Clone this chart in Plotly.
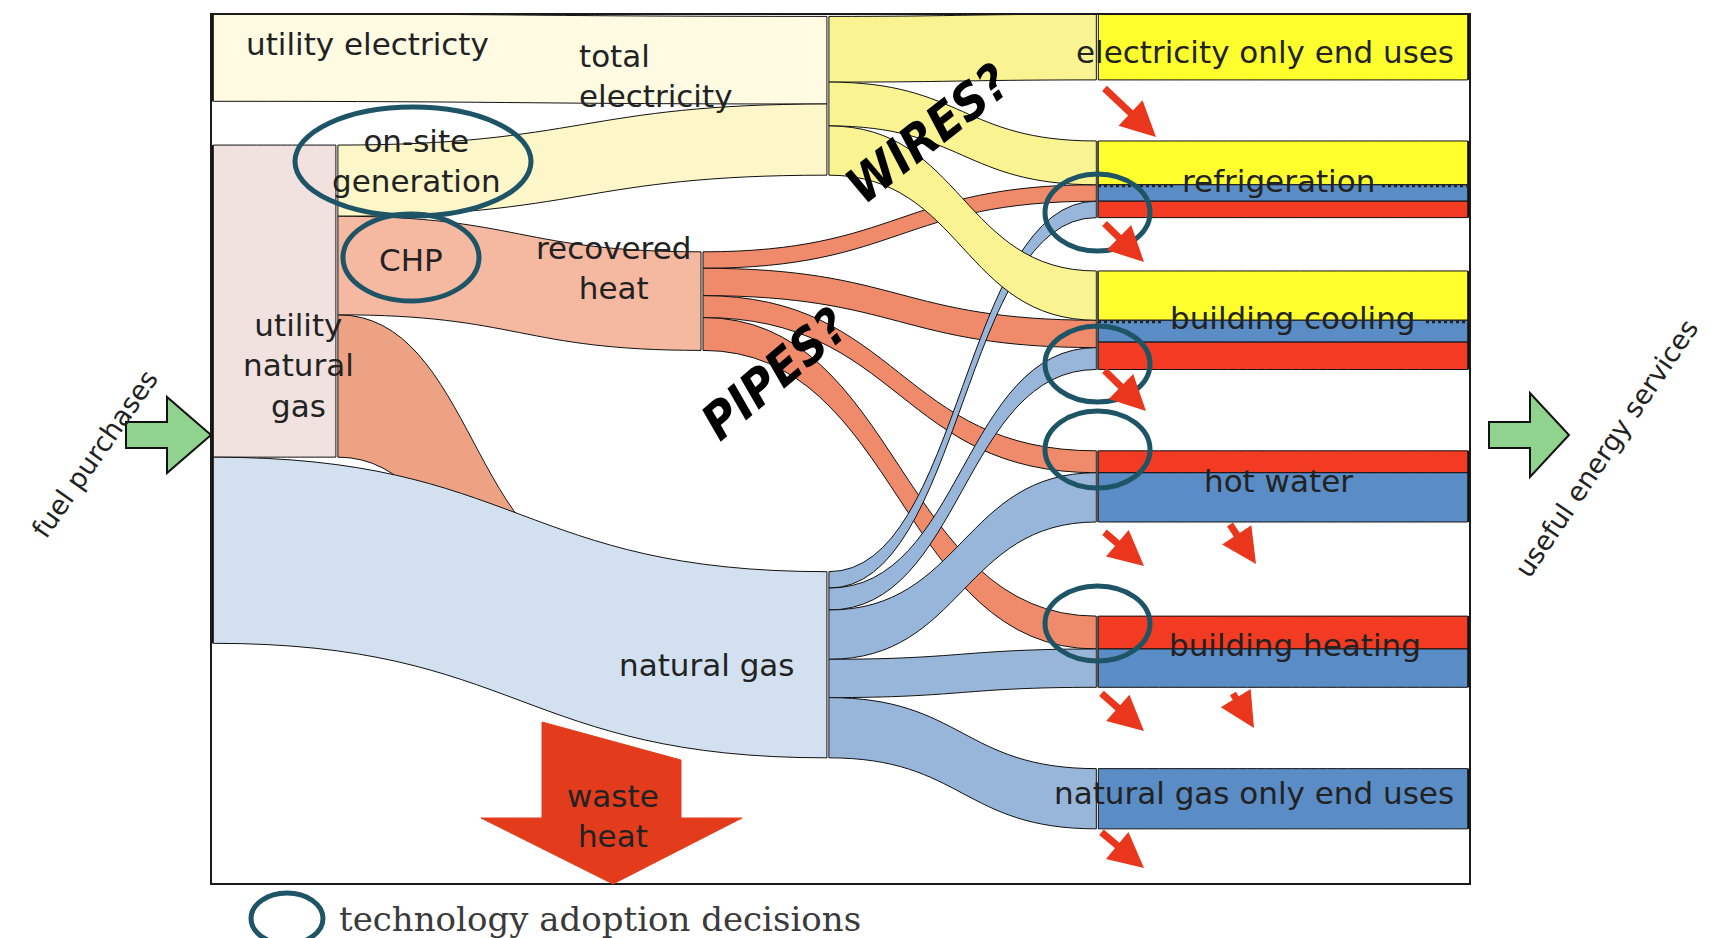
import plotly.graph_objects as go

W, H = 1717, 938

# ---------------- data ----------------
sources_primary = ["utility electricty", "utility natural gas"]
conversion = ["on-site generation"]
hubs = ["total electricity", "recovered heat", "natural gas"]
losses = ["waste heat"]
end_uses = ["electricity only end uses", "refrigeration", "building cooling",
            "hot water", "building heating", "natural gas only end uses"]
decisions = [e + " technology" for e in end_uses]

link_source = [
    "on-site generation", "utility natural gas", "utility natural gas",
    "utility electricty", "on-site generation", "on-site generation",
    "recovered heat", "recovered heat", "recovered heat", "recovered heat",
    "natural gas", "natural gas", "natural gas", "natural gas", "natural gas",
    "total electricity", "total electricity", "total electricity",
]
link_target = [
    "waste heat", "on-site generation", "natural gas",
    "total electricity", "total electricity", "recovered heat",
    "refrigeration technology", "building cooling technology", "hot water technology",
    "building heating technology",
    "refrigeration technology", "building cooling technology", "hot water technology",
    "building heating technology", "natural gas only end uses technology",
    "electricity only end uses technology", "refrigeration technology",
    "building cooling technology",
]
link_value = [130, 285, 170, 80, 65, 90, 15, 25, 20, 30, 15, 20, 45, 35, 55, 60, 40, 45]
link_carrier = ["waste", "chpfuel", "gas", "elec", "elec", "heat",
                "heat", "heat", "heat", "heat", "gas", "gas", "gas", "gas", "gas",
                "elec", "elec", "elec"]

# useful energy service split by carrier (decision -> end use)
service_use = ["electricity only end uses",
               "refrigeration", "refrigeration", "refrigeration",
               "building cooling", "building cooling", "building cooling",
               "hot water", "hot water",
               "building heating", "building heating",
               "natural gas only end uses"]
service_value = [60, 40, 15, 15, 45, 20, 25, 20, 45, 30, 35, 55]
service_carrier = ["elec", "elec", "gas", "heat", "elec", "gas", "heat",
                   "heat", "gas", "heat", "gas", "gas"]

# ---------------- layout / style ----------------
all_nodes = sources_primary + conversion + hubs + losses + decisions + end_uses
idx = {n: i for i, n in enumerate(all_nodes)}

node_pos = {
    "utility electricty": (0.001, 0.05),
    "utility natural gas": (0.001, 0.437),
    "on-site generation": (0.10, 0.33),
    "total electricity": (0.49, 0.094),
    "recovered heat": (0.39, 0.33),
    "natural gas": (0.49, 0.748),
    "waste heat": (0.317, 0.72),
}
end_y = [0.038, 0.19, 0.352, 0.543, 0.733, 0.902]
for d, e, yy in zip(decisions, end_uses, end_y):
    node_pos[d] = (0.704, yy)
    node_pos[e] = (0.999, yy)
node_x = [node_pos[n][0] for n in all_nodes]
node_y = [node_pos[n][1] for n in all_nodes]

node_color = []
for n in all_nodes:
    if n in decisions[1:-1]:
        node_color.append("#555555")
    elif n in end_uses or n in sources_primary:
        node_color.append("#111111")
    else:
        node_color.append("rgba(0,0,0,0)")

palette = {
    ("elec", "pale"): "#fefbe2", ("elec", "light"): "#fcf6c8",
    ("elec", "mid"): "#f9f392", ("elec", "full"): "#ffff2e",
    ("gas", "pale"): "#d3e0ef", ("gas", "mid"): "#98b6da", ("gas", "full"): "#5a8cc5",
    ("heat", "light"): "#f5b9a2", ("heat", "mid"): "#ef8a6b", ("heat", "full"): "#f23b22",
    ("chpfuel", "pale"): "#f1e2e0", ("waste", "light"): "#eda283",
}


def stage(src):
    if src in sources_primary:
        return "pale"
    if src in conversion:
        return "light"
    if src in hubs:
        return "mid"
    return "full"


src_all = link_source + [decisions[end_uses.index(u)] for u in service_use]
tgt_all = link_target + service_use
val_all = link_value + service_value
car_all = link_carrier + service_carrier
col_all = [palette[(c, stage(s))] for s, c in zip(src_all, car_all)]

# domain in pixels
X0, X1, Y0, Y1 = 203, 1462, 6, 876
scale = 1.095  # px per unit
last_sum = sum(v for t, v in zip(tgt_all, val_all) if t in end_uses or t in losses)
pad = ((Y1 - Y0) - scale * last_sum) / (len(end_uses) + len(losses) - 1)

fig = go.Figure(go.Sankey(
    arrangement="fixed",
    domain=dict(x=[X0 / W, X1 / W], y=[1 - Y1 / H, 1 - Y0 / H]),
    node=dict(label=[""] * len(all_nodes), customdata=all_nodes,
              hovertemplate="%{customdata}<extra></extra>",
              x=node_x, y=node_y, pad=pad, thickness=2,
              color=node_color, line=dict(width=0)),
    link=dict(source=[idx[s] for s in src_all], target=[idx[t] for t in tgt_all],
              value=val_all, color=col_all,
              line=dict(color="#111111", width=1.0), hoverinfo="none"),
))


def px(x):
    return x / W


def py(y):
    return 1 - y / H


shapes = []
# frame
shapes.append(dict(type="rect", xref="paper", yref="paper", x0=px(X0), x1=px(X1),
                   y0=py(Y1), y1=py(Y0), line=dict(color="#1a1a1a", width=2)))


def poly(points, fill, line_color="#111111", width=2):
    path = "M " + " L ".join(f"{px(a):.5f},{py(b):.5f}" for a, b in points) + " Z"
    return dict(type="path", xref="paper", yref="paper", path=path,
                fillcolor=fill, line=dict(color=line_color, width=width))


# waste heat arrow
shapes.append(poly([(534, 714), (673, 752), (673, 810), (734, 810), (605, 876),
                    (473, 810), (534, 810)], "#e23c1d", "#e23c1d", 1))
# fuel purchases / useful energy arrows
shapes.append(poly([(118, 414), (159, 414), (159, 389), (203, 427), (159, 465),
                    (159, 440), (118, 440)], "#8fd38f"))
shapes.append(poly([(1481, 414), (1522, 414), (1522, 385), (1561, 427), (1522, 469),
                    (1522, 440), (1481, 440)], "#8fd38f"))

# dotted leaders
for (xa, xb, yy) in [(1090, 1166, 178), (1374, 1462, 178), (1090, 1155, 314), (1418, 1462, 314)]:
    shapes.append(dict(type="line", xref="paper", yref="paper", x0=px(xa), x1=px(xb),
                       y0=py(yy), y1=py(yy), line=dict(color="#222222", width=2.5, dash="dot")))

# technology adoption decision circles
circ = "#1d5466"
for (xa, xb, ya, yb) in [(287, 523, 99, 208), (335, 471, 206, 293),
                         (1037, 1142, 166, 243), (1037, 1142, 318, 394),
                         (1037, 1142, 403, 480), (1037, 1142, 578, 653),
                         (243, 315, 885, 936)]:
    shapes.append(dict(type="circle", xref="paper", yref="paper", x0=px(xa), x1=px(xb),
                       y0=py(yb), y1=py(ya), line=dict(color=circ, width=5)))

FONT = "DejaVu Sans, Arial, sans-serif"
ann = []


def label(text, x, y, size=31, xanchor="center", align="center", **kw):
    ann.append(dict(text=text, x=px(x), y=py(y), xref="paper", yref="paper",
                    showarrow=False, xanchor=xanchor, yanchor="middle", align=align,
                    font=dict(family=FONT, size=size, color="#222222"), **kw))


def wrap(name):
    return "<br>".join(name.split())


label(sources_primary[0], 359, 36)
label(wrap(sources_primary[1]), 290, 358)
label(wrap(conversion[0]), 408, 153)
label("CHP", 403, 252)
label(wrap(hubs[0]), 569, 68, xanchor="left", align="left")
label(wrap(hubs[1]), 605, 260)
label(hubs[2], 698, 657)
label(wrap(losses[0]), 605, 808)
label(end_uses[0], 1448, 44, xanchor="right")
label(end_uses[1], 1270, 173)
label(end_uses[2], 1285, 310)
label(end_uses[3], 1270, 473)
label(end_uses[4], 1287, 637)
label(end_uses[5], 1448, 785, xanchor="right")
label("fuel purchases", 86, 446, size=27, textangle=-55)
label("useful energy services", 1598, 440, size=27, textangle=-56)
ann.append(dict(text="technology adoption decisions", x=px(329), y=py(911), xref="paper",
                yref="paper", showarrow=False, xanchor="left", yanchor="middle",
                font=dict(family="DejaVu Serif, Liberation Serif, serif", size=34, color="#3a3a3a")))

BOLD = "Liberation Sans Narrow, DejaVu Sans Condensed, Roboto Condensed, Arial, sans-serif"
for txt, x, y, ang in [("WIRES?", 920, 126, -38), ("PIPES?", 767, 366, -40)]:
    ann.append(dict(text="<b><i>" + txt + "</i></b>", x=px(x), y=py(y), xref="paper",
                    yref="paper", showarrow=False, textangle=ang,
                    xanchor="center", yanchor="middle",
                    font=dict(family=BOLD, size=50, color="#000000")))

# small loss arrows
for (tx, ty, hx, hy) in [(1095, 79, 1148, 129), (1095, 214, 1136, 254), (1095, 361, 1138, 403),
                         (1095, 523, 1136, 558), (1221, 515, 1248, 556),
                         (1092, 684, 1136, 723), (1224, 684, 1246, 720),
                         (1092, 823, 1136, 860)]:
    ann.append(dict(text="", x=px(hx), y=py(hy), xref="paper", yref="paper",
                    showarrow=True, ax=tx - hx, ay=ty - hy, arrowhead=2, arrowsize=1,
                    arrowwidth=7, arrowcolor="#ea361c", standoff=0))

fig.update_layout(width=W, height=H, margin=dict(l=0, r=0, t=0, b=0),
                  paper_bgcolor="white", plot_bgcolor="white",
                  shapes=shapes, annotations=ann, showlegend=False)
fig.write_html("out.html")
